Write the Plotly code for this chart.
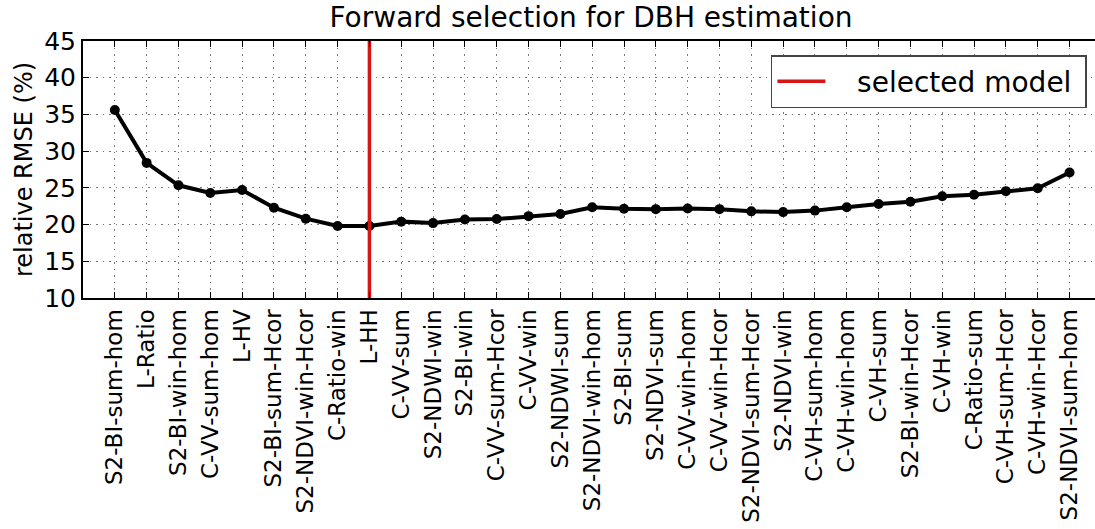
import plotly.graph_objects as go

features = [
    "S2-BI-sum-hom", "L-Ratio", "S2-BI-win-hom", "C-VV-sum-hom", "L-HV",
    "S2-BI-sum-Hcor", "S2-NDVI-win-Hcor", "C-Ratio-win", "L-HH", "C-VV-sum",
    "S2-NDWI-win", "S2-BI-win", "C-VV-sum-Hcor", "C-VV-win", "S2-NDWI-sum",
    "S2-NDVI-win-hom", "S2-BI-sum", "S2-NDVI-sum", "C-VV-win-hom", "C-VV-win-Hcor",
    "S2-NDVI-sum-Hcor", "S2-NDVI-win", "C-VH-sum-hom", "C-VH-win-hom", "C-VH-sum",
    "S2-BI-win-Hcor", "C-VH-win", "C-Ratio-sum", "C-VH-sum-Hcor", "C-VH-win-Hcor",
    "S2-NDVI-sum-hom",
]
rmse = [
    35.6, 28.4, 25.35, 24.3, 24.7,
    22.3, 20.8, 19.8, 19.8, 20.4,
    20.2, 20.7, 20.75, 21.15, 21.45,
    22.35, 22.15, 22.1, 22.2, 22.1,
    21.8, 21.7, 21.9, 22.35, 22.8,
    23.1, 23.85, 24.05, 24.55, 24.95,
    27.1,
]
selected_feature = "L-HH"
y_ticks = [10, 15, 20, 25, 30, 35, 40, 45]

FONT = "DejaVu Sans"
NB = "\u00a0"

fig = go.Figure()
fig.add_trace(go.Scatter(
    x=features, y=rmse, mode="lines+markers",
    line=dict(color="black", width=4),
    marker=dict(color="black", size=10),
    showlegend=False, hoverinfo="skip",
))
fig.add_trace(go.Scatter(
    x=[selected_feature, selected_feature], y=[y_ticks[0], y_ticks[-1]],
    mode="lines", line=dict(color="#d81515", width=3.5),
    name=NB * 3 + "selected model" + NB,
))

fig.update_layout(
    width=1095, height=529,
    margin=dict(l=83, r=0, t=41, b=231, autoexpand=False),
    paper_bgcolor="white", plot_bgcolor="white",
    font=dict(family=FONT, color="black"),
    title=dict(text="Forward selection for DBH estimation",
               font=dict(size=28, family=FONT, color="black"),
               x=591 / 1095, xanchor="center",
               y=1 - 17 / 529, yanchor="middle", yref="container"),
    legend=dict(x=0.992, xanchor="right", y=0.9455, yanchor="top",
                font=dict(size=28, family=FONT, color="black"),
                itemwidth=48,
                bordercolor="#444", borderwidth=1.5, bgcolor="white"),
)
fig.update_xaxes(
    type="category", categoryorder="array", categoryarray=features,
    range=[-1, 30.8], tickangle=-90, automargin=False,
    tickfont=dict(size=23, family=FONT, color="black"),
    showgrid=True, gridcolor="#777", griddash="1.5px,5px", gridwidth=1,
    ticks="inside", ticklen=6, tickcolor="black",
    showline=True, linecolor="black", linewidth=2, mirror="allticks",
    zeroline=False,
)
fig.update_yaxes(
    range=[10, 45], tickvals=y_ticks, automargin=False,
    tickfont=dict(size=25, family=FONT, color="black"),
    title=dict(text="relative RMSE (%)", font=dict(size=24, family=FONT, color="black"),
               standoff=5),
    showgrid=True, gridcolor="#777", griddash="1.5px,5px", gridwidth=1,
    ticks="inside", ticklen=6, tickcolor="black",
    showline=True, linecolor="black", linewidth=2,
    zeroline=False,
)

fig.write_html("out.html", config={"displayModeBar": False},
               post_script="document.body.style.margin='0px';")
